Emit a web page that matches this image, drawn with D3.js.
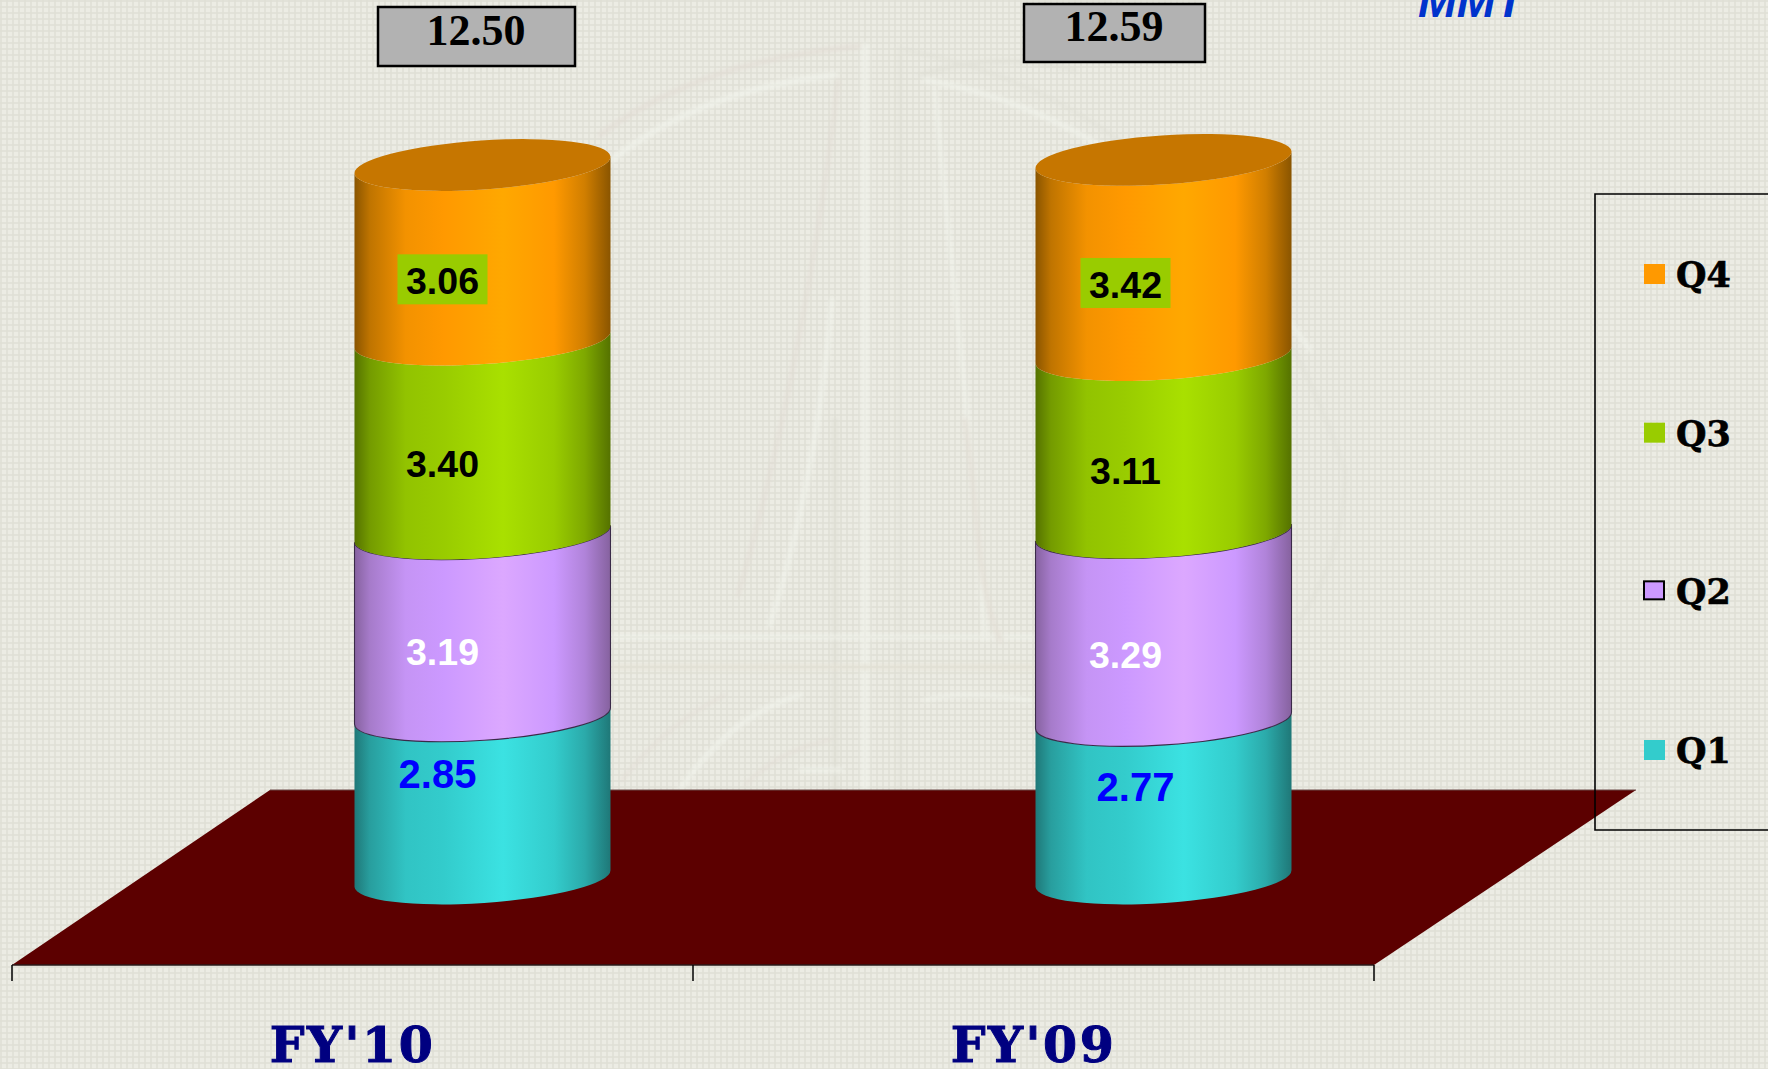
<!DOCTYPE html>
<html>
<head>
<meta charset="utf-8">
<script src="https://cdn.jsdelivr.net/npm/d3@7/dist/d3.min.js"></script>
<style>html,body{margin:0;padding:0;background:#e8e8df;overflow:hidden}svg{display:block}</style>
</head>
<body>
<svg id="chart" width="1768" height="1069"></svg>
<script>
// ---- data ----
const categories = ["FY'10", "FY'09"];
const quarters = ["Q1", "Q2", "Q3", "Q4"];
const q1Values = [2.85, 2.77];
const q2Values = [3.19, 3.29];
const q3Values = [3.40, 3.11];
const q4Values = [3.06, 3.42];
const totals = ["12.50", "12.59"];
const unitLabel = "MMT";

// ---- style and layout ----
const W = 1768, H = 1069;
const baseColors = {Q1:"#33cccc", Q2:"#cc99ff", Q3:"#99cc00", Q4:"#ff9900"};
const glowColors = {Q1:"#3be2e2", Q2:"#dca8ff", Q3:"#a9e000", Q4:"#ffa800"};
const edgeColors = {Q1:"#1f7878", Q2:"#86629f", Q3:"#557200", Q4:"#8a5500"};
const labelColors = {Q1:"#0000ff", Q2:"#ffffff", Q3:"#000000", Q4:"#000000"};
const labelSizes = {Q1:40, Q2:37.5, Q3:37.5, Q4:37.5};
const lidColor = "#c67600";
const labelDx = {Q1:[-45,-28], Q2:[-40,-38], Q3:[-40,-38], Q4:[-40,-38]};
const labelDy = {Q1:[-9,2], Q2:[40,41.5], Q3:[40.5,40.5], Q4:[42,40.5]};
const totalBoxes = [{x0:378,x1:575,y0:7,y1:66,tx:476,ty:45},{x0:1024,x1:1205,y0:4,y1:62,tx:1114,ty:41}];

const floorTop = 790, floorBottom = 965, floorSkew = 258;
const cylDepth = 130, rxSide = 128, tiltRise = 8.5, ry = 24.5;
const rx = Math.hypot(rxSide, tiltRise);
const tiltDeg = -Math.atan2(tiltRise, rxSide) * 180 / Math.PI;

const series = {Q1:q1Values, Q2:q2Values, Q3:q3Values, Q4:q4Values};
const x = d3.scaleBand().domain(categories).range([12, 1374]);
const y = d3.scaleLinear().domain([0, 12.5]).range([878.5, 165]);
const legendY = d3.scalePoint().domain(["Q4","Q3","Q2","Q1"]).range([274, 750]);

const svg = d3.select("#chart").attr("viewBox", `0 0 ${W} ${H}`);
const defs = svg.append("defs");

// woven paper background
const pat = defs.append("pattern").attr("id","weave").attr("patternUnits","userSpaceOnUse").attr("width",6).attr("height",6);
pat.append("rect").attr("width",6).attr("height",6).attr("fill","#ecece4");
pat.append("rect").attr("x",0).attr("width",2).attr("height",6).attr("fill","#dfdfd5").attr("opacity",.75);
pat.append("rect").attr("y",0).attr("width",6).attr("height",2).attr("fill","#dfdfd5").attr("opacity",.75);
svg.append("rect").attr("width",W).attr("height",H).attr("fill","url(#weave)");

// faint emblem watermark
const blur = defs.append("filter").attr("id","soft").attr("x","-20%").attr("y","-20%").attr("width","140%").attr("height","140%");
blur.append("feGaussianBlur").attr("stdDeviation",2);
const wm = svg.append("g").attr("fill","none").attr("filter","url(#soft)").attr("stroke-linecap","round").attr("opacity",.55);
const wmPink = "#e0d8d0", wmWhite = "#f4f7f0", wmGrey="#dcdcd2";
[
 ["M600,135 Q700,60 862,46", wmPink, 5],
 ["M612,160 Q700,90 835,75", wmWhite, 6],
 ["M838,80 C825,200 790,420 738,595", wmPink, 4],
 ["M832,300 C822,420 800,530 770,625", wmWhite, 5],
 ["M865,46 L865,790", wmWhite, 7],
 ["M900,46 L900,790", wmGrey, 3],
 ["M835,420 L835,790", wmGrey, 6],
 ["M612,637 L1035,637", wmWhite, 4],
 ["M612,667 L1035,667", "#e4e0d2", 5],
 ["M622,780 Q665,725 725,695", wmPink, 3],
 ["M680,790 Q730,715 800,695", wmWhite, 5],
 ["M745,785 Q780,750 830,740", wmPink, 3],
 ["M800,770 L842,770", wmWhite, 4],
 ["M920,75 Q1000,50 1075,70", wmGrey, 4],
 ["M925,80 Q1150,120 1310,350", wmWhite, 5],
 ["M905,50 Q1220,110 1345,470", wmGrey, 3],
 ["M935,90 C950,260 975,460 985,640", wmWhite, 4],
 ["M965,420 C980,520 975,580 1000,640", "#e2dbd2", 5],
 ["M1345,470 Q1345,560 1295,625", wmGrey, 3],
 ["M1040,640 Q1180,630 1295,625", wmWhite, 3],
 ["M925,700 Q960,690 1030,700", wmWhite, 4]
].forEach(([d,c,w]) => wm.append("path").attr("d",d).attr("stroke",c).attr("stroke-width",w));

// floor
const floorPts = [[x.range()[0],floorBottom],[x.range()[0]+floorSkew,floorTop],[1636,floorTop],[x.range()[1],floorBottom]];
svg.append("path").attr("d", d3.line()(floorPts)+"Z").attr("fill","#5c0000");
svg.append("line").attr("x1",x.range()[0]+floorSkew).attr("x2",1636).attr("y1",floorTop).attr("y2",floorTop).attr("stroke","#6a4a48").attr("stroke-width",1);

// legend frame sits above the floor
svg.append("path").attr("d",`M${W},194H1595V830H${W}`).attr("fill","none").attr("stroke","#000").attr("stroke-width",1.6);

// x axis
const axis = d3.axisBottom(x).tickSize(0).tickPadding(0);
const ax = svg.append("g").attr("transform",`translate(0,${floorBottom})`).call(axis);
ax.select(".domain").attr("d",`M${x.range()[0]},0H${x.range()[1]}`).attr("stroke","#2a1a1a").attr("stroke-width",1.6);
ax.selectAll("text").attr("y",97).attr("dy",0)
  .attr("font-family","'DejaVu Serif'").attr("font-weight","bold").attr("font-size",49).attr("letter-spacing",2.5)
  .attr("stroke","#000080").attr("stroke-width",1).attr("fill","#000080").attr("text-anchor","middle");
const tickEdges = [...categories.map(c => x(c)), x.range()[1]];
ax.selectAll("line.edge").data(tickEdges).join("line").attr("class","edge")
  .attr("x1",d=>d).attr("x2",d=>d).attr("y1",0).attr("y2",16).attr("stroke","#000").attr("stroke-width",1.5);

// gradients
quarters.forEach(q => {
  const g = defs.append("linearGradient").attr("id","grad"+q).attr("x1",0).attr("x2",1).attr("y1",0).attr("y2",0);
  const mix = t => d3.interpolateRgb(edgeColors[q], baseColors[q])(t);
  [[0,edgeColors[q]],[.06,mix(.45)],[.2,mix(.9)],[.35,baseColors[q]],[.58,glowColors[q]],[.78,baseColors[q]],[.9,mix(.6)],[1,edgeColors[q]]]
    .forEach(([o,c]) => g.append("stop").attr("offset",o).attr("stop-color",c));
});

// cylinders
const segPath = (cx, yBot, yTop) =>
  `M${cx-rxSide},${yTop+tiltRise}` +
  `A${rx},${ry} ${tiltDeg} 0 0 ${cx+rxSide},${yTop-tiltRise}` +
  `L${cx+rxSide},${yBot-tiltRise}` +
  `A${rx},${ry} ${tiltDeg} 0 1 ${cx-rxSide},${yBot+tiltRise}Z`;

categories.forEach((cat, i) => {
  const cx = x(cat) + x.bandwidth()/2 + cylDepth;
  const stack = [];
  let cum = 0;
  quarters.forEach(q => { stack.push({q, v:series[q][i], y0:cum, y1:cum+series[q][i]}); cum += series[q][i]; });
  const g = svg.append("g");
  g.selectAll("path.seg").data(stack).join("path").attr("class","seg")
    .attr("d", d => segPath(cx, y(d.y0), y(d.y1)))
    .attr("fill", d => `url(#grad${d.q})`)
    .attr("stroke", d => d.q==="Q2" ? "#3a2a48" : "none")
    .attr("stroke-width", d => d.q==="Q2" ? 1.1 : 0);
  g.append("ellipse").attr("cx",0).attr("cy",0).attr("rx",rx).attr("ry",ry)
    .attr("transform",`translate(${cx},${y(cum)}) rotate(${tiltDeg})`).attr("fill",lidColor);

  stack.forEach(d => {
    const tx = cx + labelDx[d.q][i];
    const ty = (y(d.y0)+y(d.y1))/2 + labelDy[d.q][i];
    if (d.q === "Q4") {
      g.append("rect").attr("x",tx-45).attr("y",ty-40).attr("width",90).attr("height",50).attr("fill","#99cc00");
    }
    g.append("text").attr("x",tx).attr("y",ty).attr("text-anchor","middle")
      .attr("font-family","'Liberation Sans'").attr("font-weight","bold").attr("font-size",labelSizes[d.q])
      .attr("fill",labelColors[d.q]).text(d.v.toFixed(2));
  });
});

// total boxes
totalBoxes.forEach((b,i) => {
  svg.append("rect").attr("x",b.x0).attr("y",b.y0).attr("width",b.x1-b.x0).attr("height",b.y1-b.y0)
    .attr("fill","#b2b2b2").attr("stroke","#000").attr("stroke-width",2.5);
  svg.append("text").attr("x",b.tx).attr("y",b.ty).attr("text-anchor","middle")
    .attr("font-family","'Liberation Serif'").attr("font-weight","bold").attr("font-size",44).attr("fill","#000").text(totals[i]);
});

// unit label
svg.append("text").attr("x",1418).attr("y",17).attr("font-family","'Liberation Sans'")
  .attr("font-weight","bold").attr("font-style","italic").attr("font-size",46.5).attr("fill","#0033cc").text(unitLabel);

// legend
const leg = svg.selectAll("g.leg").data(legendY.domain()).join("g").attr("class","leg")
  .attr("transform", d => `translate(0,${legendY(d)})`);
leg.append("rect").attr("x",1644).attr("y",-10).attr("width",d=>d==="Q2"?20:21).attr("height",d=>d==="Q2"?18:20)
  .attr("fill",d=>baseColors[d]).attr("stroke",d=>d==="Q2"?"#000":"none").attr("stroke-width",2);
leg.append("text").attr("x",1676).attr("y",13).attr("font-family","'DejaVu Serif'").attr("font-weight","bold")
  .attr("font-size",35).attr("stroke","#000").attr("stroke-width",.6).attr("fill","#000").text(d=>d);
</script>
</body>
</html>
